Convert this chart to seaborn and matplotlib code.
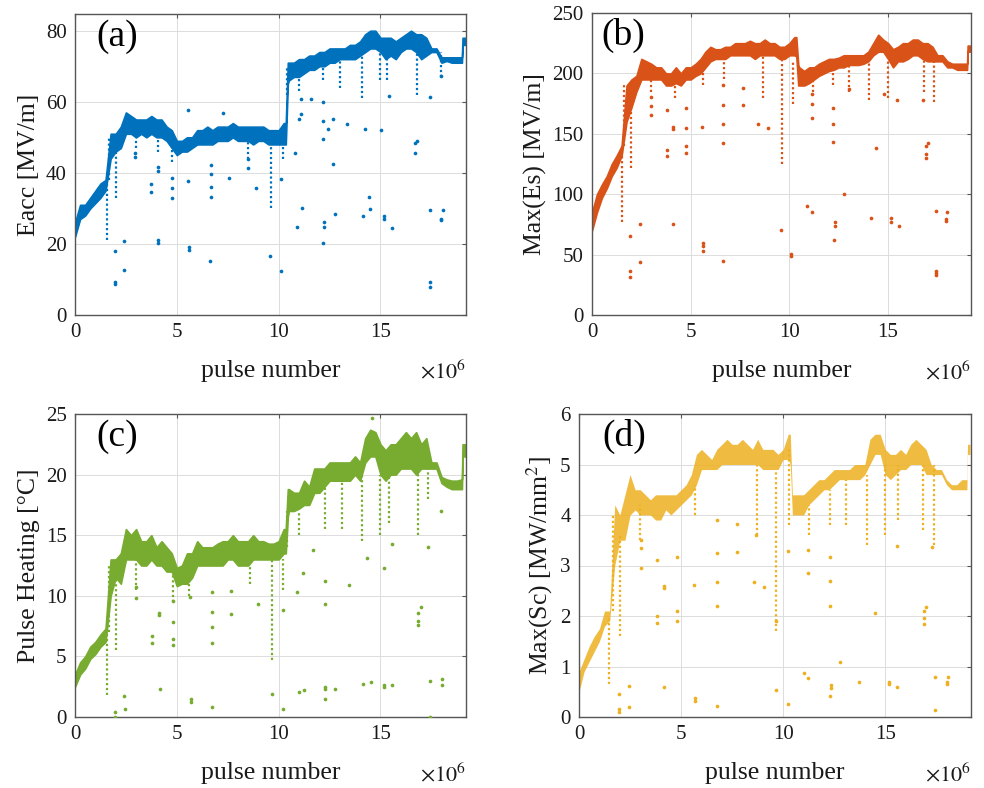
import matplotlib
matplotlib.use("Agg")
import matplotlib.pyplot as plt
import seaborn as sns

sns.set_style("whitegrid")
plt.rcParams["font.family"] = ["Liberation Serif", "DejaVu Serif"]
plt.rcParams["mathtext.fontset"] = "stix"

pulse_m = [0.0, 0.25, 0.5, 0.75, 1.0, 1.25, 1.5, 1.75, 2.0, 2.25,
           2.5, 2.75, 3.0, 3.25, 3.5, 3.75, 4.0, 4.25, 4.5, 4.75,
           5.0, 5.25, 5.5, 5.75, 6.0, 6.25, 6.5, 6.75, 7.0, 7.25,
           7.5, 7.75, 8.0, 8.25, 8.5, 8.75, 9.0, 9.25, 9.5, 9.75,
           10.0, 10.25, 10.35, 10.45, 10.5, 10.75, 11.0, 11.25, 11.5, 11.75, 12.0, 12.25,
           12.5, 12.75, 13.0, 13.25, 13.5, 13.75, 14.0, 14.25, 14.5, 14.75,
           15.0, 15.25, 15.5, 15.75, 16.0, 16.25, 16.5, 16.75, 17.0, 17.25,
           17.5, 17.75, 18.0, 18.25, 18.5, 18.75, 19.0, 19.03, 19.15]

# (a) Eacc [MV/m] - lower / upper edge of the dense band
eacc_low = [22, 27, 28, 30, 31.5, 33, 35, 44, 46, 47,
            51, 51, 50, 51, 50, 51, 50, 50, 49, 47,
            45, 46, 46, 47, 48, 48, 48, 48, 49, 49,
            49, 50, 49, 49, 49, 48, 49, 49, 48, 48,
            48, 48, 48, 65, 66, 67, 67, 68, 69, 69, 70, 70,
            71, 71, 72, 72, 72, 72, 73, 74, 75, 75,
            74, 72, 73, 72, 74, 75, 75, 74, 72, 73,
            74, 74, 71, 71.5, 71, 71, 71, 76, 76]
eacc_high = [26, 31, 31, 33, 35, 37, 38, 51, 51, 53,
             57, 56, 55, 55, 55, 56, 55, 55, 53, 52,
             49, 49, 50, 50, 52, 52, 53, 52, 53, 53,
             53, 54, 53, 53, 53, 53, 53, 53, 52, 52,
             52, 54, 54, 71, 71, 71, 72, 72, 73, 73, 74, 74,
             75, 75, 75, 75, 76, 76, 77, 79, 80, 80,
             78, 78, 78, 77, 78, 79, 80, 79, 79, 78,
             75, 75, 72.5, 72.5, 72.5, 72.5, 72.5, 78, 78]
eacc_drip_x = [1.55, 1.65, 2.0, 3.0, 4.1, 4.75, 8.5, 9.6, 10.2, 10.4, 11.0, 12.2, 13.0, 14.1, 15.0, 15.3, 16.8, 17.95]
eacc_drip_top = [37, 50, 50, 50, 50, 48, 50, 48, 50, 70, 68, 70, 72, 73, 75, 73, 76, 74]
eacc_drip_bot = [21, 38, 33, 47, 46, 43, 44, 30, 44, 62, 63, 66, 64, 61, 66, 66, 62, 67]
eacc_out_x = [1.98, 1.98, 1.98, 2.43, 2.43, 2.97, 2.97, 3.73, 3.73, 4.1, 4.1, 4.1, 4.1,
              4.75, 4.75, 4.75, 5.56, 5.56, 5.59, 5.59, 6.66, 6.66, 6.66, 6.66, 6.63,
              7.29, 7.58, 8.48, 8.48, 8.91, 9.56, 10.1, 10.1, 10.81, 10.91, 11.0, 11.1,
              11.1, 11.13, 11.59, 12.16, 12.19, 12.19, 12.19, 12.24, 12.24, 12.4,
              12.79, 12.69, 12.69, 13.37, 14.15, 14.23, 14.44, 14.49, 15.18, 15.18,
              15.04, 15.57, 15.4, 16.7, 16.7, 16.8, 17.43, 17.43, 17.43, 17.97, 17.97,
              18.06, 17.43, 17.95]
eacc_out_y = [18.1, 9.4, 8.7, 20.9, 12.7, 45.7, 44.6, 36.8, 34.7, 21.1, 20.4, 41.7, 40.6,
              38.6, 35.6, 32.8, 57.7, 37.7, 19.2, 18.3, 42.2, 39.7, 36.1, 33.1, 15.2,
              56.8, 38.6, 43.8, 41.3, 35.8, 16.7, 38.3, 12.5, 45.7, 24.9, 55.1, 56.5,
              60.7, 30.2, 60.7, 20.4, 49.4, 54.6, 59.8, 26.3, 24.9, 52.3,
              28.3, 42.4, 55.1, 53.7, 27.8, 52.3, 33.1, 29.9, 27.9, 26.9,
              52.1, 24.5, 61.6, 48.5, 45.5, 49.0, 29.5, 9.2, 8.0, 27.1, 26.6,
              29.5, 61.4, 67.3]

# (b) Max(Es) [MV/m]
es_low = [70, 85, 97, 105, 115, 122, 132, 160, 172, 185,
          195, 195, 195, 195, 195, 190, 190, 192, 190, 195,
          195, 198, 200, 205, 210, 212, 212, 212, 215, 215,
          215, 215, 215, 212, 215, 215, 215, 215, 212, 212,
          215, 215, 214, 190, 190, 190, 192, 195, 198, 200, 202, 203,
          205, 205, 207, 207, 207, 208, 210, 215, 218, 218,
          212, 205, 210, 210, 212, 215, 215, 212, 210, 210,
          210, 210, 205, 205, 203, 203, 203, 218, 218]
es_high = [85, 100, 108, 115, 125, 132, 140, 190, 195, 198,
           212, 210, 208, 205, 205, 200, 200, 205, 200, 205,
           205, 208, 212, 218, 222, 220, 220, 222, 222, 225,
           225, 225, 227, 225, 225, 228, 225, 225, 222, 222,
           225, 230, 230, 207, 205, 202, 205, 205, 208, 210, 212, 212,
           213, 215, 215, 215, 215, 215, 218, 225, 232, 228,
           225, 220, 222, 225, 225, 228, 228, 225, 225, 222,
           215, 215, 210, 208, 208, 208, 208, 223, 223]
es_drip_x = [1.5, 1.6, 2.0, 3.0, 4.2, 5.6, 6.7, 8.65, 9.6, 10.2, 11.2, 12.2, 13.0, 14.05, 15.0, 16.8, 17.35]
es_drip_top = [140, 190, 185, 200, 195, 205, 212, 215, 212, 210, 200, 205, 207, 210, 215, 215, 210]
es_drip_bot = [77, 140, 122, 185, 180, 190, 195, 180, 125, 175, 185, 190, 185, 178, 180, 185, 176]
es_out_x = [1.93, 1.93, 1.93, 2.43, 2.43, 2.99, 2.99, 2.99, 3.78, 3.78, 3.78, 4.11, 4.11,
            4.11, 4.78, 4.78, 4.78, 4.78, 5.57, 5.62, 5.62, 5.62, 6.66, 6.66, 6.66,
            6.66, 6.66, 7.63, 7.63, 8.39, 8.93, 9.56, 10.1, 10.1, 10.9, 11.12, 11.12,
            11.12, 11.16, 12.2, 12.2, 12.2, 12.3, 12.3, 12.27, 12.75, 13.0, 14.12,
            14.4, 14.8, 15.15, 15.15, 15.56, 15.47, 16.9, 16.9, 16.9, 17.0, 17.41,
            17.41, 17.41, 17.41, 18.0, 17.95, 17.95, 16.75]
es_out_y = [65.6, 36.8, 31.8, 75.3, 43.5, 180.5, 173, 165.3, 136.5, 132, 169.4, 155.6, 154.2,
            75.3, 171.6, 155, 139.8, 133.7, 155.9, 60, 57.3, 53.2, 190, 173.6, 158.4,
            142.6, 44.9, 188.3, 173.9, 158.4, 155, 70.6, 50.4, 49, 90.5, 183.3, 174.4,
            163.3, 85, 171.6, 157.8, 143.1, 76.7, 73.9, 62, 100, 187.4, 80,
            137.9, 183.3, 80, 77, 73.6, 177.7, 139.8, 132.9, 130.1, 142, 85.8,
            36.5, 34.6, 33.2, 85, 79.6, 77.9, 177.7]

# (c) Pulse Heating [degC]
ph_low = [2.5, 3.5, 4.0, 4.8, 5.2, 5.8, 6.2, 10.0, 11.5, 11.0,
          13.0, 13.0, 13.0, 12.5, 12.5, 13.0, 12.5, 12.5, 12.0, 12.0,
          10.8, 11.0, 11.0, 11.5, 12.5, 12.5, 12.5, 12.5, 12.5, 12.5,
          13.0, 13.0, 12.5, 12.5, 12.5, 13.0, 13.0, 13.0, 13.0, 13.0,
          13.0, 13.5, 13.5, 16.5, 17.0, 17.0, 17.2, 17.5, 17.5, 18.5, 18.5, 19.0,
          19.5, 19.5, 19.5, 19.5, 19.5, 20.0, 19.5, 21.0, 21.5, 21.5,
          20.0, 19.5, 20.0, 20.0, 20.5, 20.5, 20.5, 20.0, 20.5, 20.5,
          20.5, 20.5, 19.3, 19.0, 18.8, 18.8, 18.8, 21.5, 21.5]
ph_high = [3.5, 4.5, 5.0, 5.8, 6.2, 6.8, 7.3, 13.0, 13.0, 13.5,
           15.5, 15.0, 15.5, 14.5, 14.5, 15.0, 14.0, 14.5, 14.0, 13.5,
           12.3, 12.5, 13.5, 13.5, 14.5, 14.0, 14.0, 14.0, 14.3, 14.5,
           14.5, 15.0, 14.5, 14.5, 14.5, 15.0, 14.5, 14.5, 14.3, 14.3,
           14.5, 15.5, 15.5, 18.8, 18.8, 18.5, 18.5, 19.5, 19.0, 20.5, 20.5, 20.5,
           21.0, 21.0, 21.0, 21.0, 21.0, 21.5, 21.0, 23.0, 23.7, 23.5,
           22.5, 22.0, 22.5, 22.5, 23.0, 23.5, 23.0, 23.5, 22.5, 23.0,
           21.0, 21.0, 19.8, 19.6, 19.5, 19.5, 19.6, 22.5, 22.5]
ph_drip_x = [1.55, 1.65, 2.0, 3.0, 4.8, 5.6, 8.6, 9.65, 10.2, 10.4, 11.0, 12.3, 13.1, 14.1, 15.0, 15.4, 16.85, 17.35]
ph_drip_top = [7.0, 12.5, 12.0, 13.0, 12.5, 12.0, 13.0, 13.0, 13.0, 17.0, 17.0, 19.0, 19.5, 20.0, 20.0, 20.0, 20.5, 21.0]
ph_drip_bot = [1.8, 7.0, 5.5, 10.5, 9.5, 10.0, 11.0, 4.7, 10.5, 14.0, 15.0, 15.5, 15.5, 14.5, 15.0, 16.0, 15.0, 18.0]
ph_out_x = [1.96, 1.96, 2.42, 2.45, 3.0, 3.0, 3.76, 3.76, 4.14, 4.14, 4.17, 4.8, 4.8, 4.8,
            4.8, 5.65, 5.68, 5.68, 6.71, 6.71, 6.71, 6.71, 6.71, 7.66, 7.66, 9.0, 9.66,
            10.2, 10.2, 10.88, 11.0, 11.24, 11.2, 11.67, 12.27, 12.27, 12.27, 12.27,
            12.27, 12.77, 13.45, 14.16, 14.32, 14.53, 14.6, 15.19, 15.19, 15.19, 15.58,
            15.58, 16.86, 16.86, 16.86, 16.99, 17.32, 17.43, 17.43, 18.0, 18.0, 17.97]
ph_out_y = [0.44, 0.0, 1.73, 0.63, 10.7, 9.8, 6.7, 6.1, 8.6, 8.4, 2.3, 9.6, 7.8, 6.4,
            5.9, 9.9, 1.5, 1.2, 10.3, 8.7, 7.4, 6.1, 0.8, 10.4, 8.5, 9.3, 1.9,
            8.8, 0.63, 10.3, 2.1, 2.2, 11.9, 13.8, 1.5, 2.3, 2.5, 9.3,
            11.2, 2.3, 10.9, 2.75, 13.1, 2.9, 24.7, 2.6, 2.5, 12.3, 2.6,
            14.3, 8.6, 7.9, 7.6, 9.1, 14.0, 3.0, 0.0, 3.1, 2.6, 17.0]

# (d) Max(Sc) [MW/mm^2]
sc_low = [0.5, 0.9, 1.1, 1.3, 1.5, 1.8, 1.9, 3.0, 3.5, 3.5,
          4.0, 4.1, 4.0, 4.0, 4.0, 3.9, 3.9, 4.1, 4.0, 4.1,
          4.2, 4.3, 4.4, 4.6, 4.9, 4.9, 4.9, 4.9, 5.0, 5.0,
          5.0, 5.0, 5.0, 5.0, 5.0, 5.0, 4.9, 4.9, 4.9, 4.9,
          5.1, 5.1, 5.0, 4.0, 4.0, 4.0, 4.0, 4.2, 4.3, 4.4, 4.5, 4.5,
          4.6, 4.7, 4.7, 4.7, 4.7, 4.7, 4.8, 5.0, 5.2, 5.2,
          4.8, 4.7, 4.8, 4.9, 4.9, 5.0, 5.0, 5.0, 4.8, 4.8,
          4.8, 4.8, 4.6, 4.5, 4.5, 4.5, 4.5, 5.2, 5.2]
sc_high = [0.9, 1.15, 1.4, 1.6, 1.75, 2.1, 2.1, 4.2, 4.0, 4.4,
           4.8, 4.5, 4.5, 4.4, 4.3, 4.4, 4.4, 4.4, 4.4, 4.4,
           4.5, 4.6, 4.8, 5.2, 5.3, 5.2, 5.1, 5.3, 5.4, 5.5,
           5.4, 5.4, 5.5, 5.4, 5.3, 5.5, 5.3, 5.3, 5.3, 5.2,
           5.3, 5.6, 5.6, 4.4, 4.4, 4.4, 4.4, 4.5, 4.6, 4.7, 4.7, 4.8,
           4.9, 4.9, 4.9, 4.9, 5.0, 5.0, 5.0, 5.5, 5.6, 5.6,
           5.3, 5.2, 5.2, 5.3, 5.2, 5.4, 5.5, 5.4, 5.3, 5.0,
           4.9, 4.9, 4.7, 4.6, 4.6, 4.7, 4.7, 5.4, 5.4]
sc_drip_x = [1.45, 1.65, 2.0, 3.0, 5.7, 8.7, 9.65, 10.3, 11.25, 12.3, 13.1, 14.1, 15.0, 15.6, 16.85, 17.4]
sc_drip_top = [2.0, 4.0, 3.6, 4.2, 4.6, 5.0, 4.9, 5.3, 4.2, 4.5, 4.7, 4.8, 5.0, 5.0, 5.0, 5.0]
sc_drip_bot = [0.65, 2.1, 1.6, 3.5, 4.0, 3.6, 1.7, 3.8, 3.6, 3.8, 3.8, 3.4, 3.6, 3.9, 3.7, 3.4]
sc_out_x = [1.98, 1.98, 1.98, 2.47, 2.47, 3.04, 3.04, 3.04, 3.8, 3.8, 3.8, 4.17, 4.17, 4.17,
            4.82, 4.82, 4.82, 5.65, 5.69, 5.69, 6.75, 6.75, 6.75, 6.75, 6.75, 7.73, 7.73,
            8.55, 9.04, 8.66, 9.66, 9.66, 10.23, 10.23, 11.0, 11.24, 11.2, 11.2, 12.3,
            12.3, 12.3, 12.35, 12.35, 12.3, 12.8, 13.7, 14.5, 15.16, 15.16, 15.57, 15.57,
            16.88, 16.88, 16.88, 17.0, 17.29, 17.45, 17.42, 18.02, 18.02, 18.07]
sc_out_y = [0.46, 0.15, 0.1, 0.61, 0.2, 3.5, 3.34, 2.96, 2.0, 1.87, 3.1, 2.6, 2.56, 0.6,
            3.16, 2.1, 1.9, 2.62, 0.38, 0.32, 3.9, 3.24, 2.68, 2.19, 0.22, 3.82, 3.27,
            2.68, 2.58, 3.6, 0.53, 1.9, 0.26, 3.29, 0.88, 0.78, 2.86, 3.3, 3.17,
            2.7, 2.2, 0.63, 0.58, 0.42, 1.08, 0.7, 2.05, 0.7, 0.65, 0.59, 3.39,
            2.1, 1.97, 1.84, 2.18, 3.37, 0.8, 0.13, 0.7, 0.66, 0.8]

panels = [
    dict(tag="(a)", ylabel="Eacc [MV/m]", color="#0072BD", ylim=(0, 84.7), yticks=[0, 20, 40, 60, 80],
         low=eacc_low, high=eacc_high, dx=eacc_drip_x, dt=eacc_drip_top, db=eacc_drip_bot,
         ox=eacc_out_x, oy=eacc_out_y, rect=(75, 14, 466, 315), tagx=0.055, alpha=1.0),
    dict(tag="(b)", ylabel="Max(Es) [MV/m]", color="#D95319", ylim=(0, 250), yticks=[0, 50, 100, 150, 200, 250],
         low=es_low, high=es_high, dx=es_drip_x, dt=es_drip_top, db=es_drip_bot,
         ox=es_out_x, oy=es_out_y, rect=(592, 13, 971, 315), tagx=0.025, alpha=1.0),
    dict(tag="(c)", ylabel="Pulse Heating [\u00b0C]", color="#77AC30", ylim=(0, 25), yticks=[0, 5, 10, 15, 20, 25],
         low=ph_low, high=ph_high, dx=ph_drip_x, dt=ph_drip_top, db=ph_drip_bot,
         ox=ph_out_x, oy=ph_out_y, rect=(75, 414, 466, 717), tagx=0.055, alpha=1.0),
    dict(tag="(d)", ylabel="Max(Sc) [MW/mm$^2$]", color="#EDB120", ylim=(0, 6), yticks=[0, 1, 2, 3, 4, 5, 6],
         low=sc_low, high=sc_high, dx=sc_drip_x, dt=sc_drip_top, db=sc_drip_bot,
         ox=sc_out_x, oy=sc_out_y, rect=(579, 414, 971, 717), tagx=0.06, alpha=0.85),
]

W, H = 984, 788
fig = plt.figure(figsize=(W / 100, H / 100), dpi=100)

for p in panels:
    x0, y0, x1, y1 = p["rect"]
    ax = fig.add_axes([x0 / W, 1 - y1 / H, (x1 - x0) / W, (y1 - y0) / H])
    c = p["color"]
    # dense band of pulses
    edge_lw = 1.2 if p["alpha"] == 1.0 else 0
    ax.fill_between(pulse_m, p["low"], p["high"], color=c, lw=edge_lw, edgecolor=c,
                    alpha=p["alpha"], zorder=2)
    # vertical dropout streaks
    ax.vlines(p["dx"], p["db"], p["dt"], color=c, lw=1.6, linestyles=(0, (1, 1.2)), zorder=2)
    # isolated points
    sns.scatterplot(x=p["ox"], y=p["oy"], ax=ax, color=c, s=7, linewidth=0, zorder=3)

    ax.set_xlim(0, 19.2)
    ax.set_ylim(*p["ylim"])
    ax.set_xticks([0, 5, 10, 15])
    ax.set_yticks(p["yticks"])
    ax.grid(True, color="#dcdcdc", lw=0.7)
    ax.set_facecolor("white")
    for s in ax.spines.values():
        s.set_color("#555555")
        s.set_linewidth(1.0)
    ax.tick_params(direction="in", length=3, width=0.8, color="#555555",
                   top=True, right=True, labelsize=15, labelcolor="#1a1a1a", pad=6)
    ax.set_xlabel("pulse number", fontsize=18.5, color="#1a1a1a", labelpad=13)
    ax.set_ylabel(p["ylabel"], fontsize=18.5, color="#1a1a1a", labelpad=4)
    ax.text(1.0, -0.19, r"$\times10^{6}$", transform=ax.transAxes, ha="right", va="center",
            fontsize=16, color="#1a1a1a")
    ax.text(p["tagx"], 0.925, p["tag"], transform=ax.transAxes, ha="left", va="center",
            fontsize=27, color="black")

fig.savefig("out.png", dpi=100)
